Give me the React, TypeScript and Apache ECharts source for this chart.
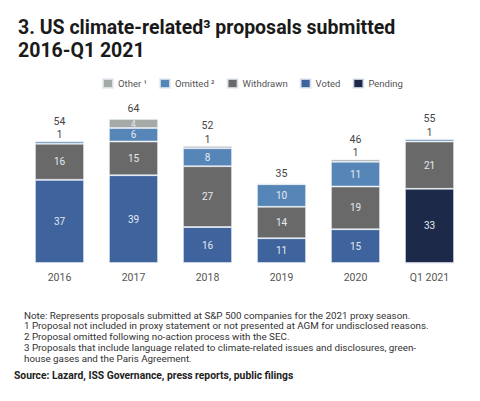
import React, { useEffect, useRef } from "react";
import * as echarts from "echarts";

const categories = ["2016", "2017", "2018", "2019", "2020", "Q1 2021"];
const voted = [37, 39, 16, 11, 15, 0];
const pending = [0, 0, 0, 0, 0, 33];
const withdrawn = [16, 15, 27, 14, 19, 21];
const omitted = [1, 6, 8, 10, 11, 1];
const other = [0, 4, 1, 0, 1, 0];

const titleLines = ["3. US climate-related³ proposals submitted", "2016-Q1 2021"];
const noteLines = [
  "Note: Represents proposals submitted at S&P 500 companies for the 2021 proxy season.",
  "1 Proposal not included in proxy statement or not presented at AGM for undisclosed reasons.",
  "2 Proposal omitted following no-action process with the SEC.",
  "3 Proposals that include language related to climate-related issues and disclosures, green-",
  "house gases and the Paris Agreement.",
];
const sourceText = "Source: Lazard, ISS Governance, press reports, public filings";

const COND = '"Roboto", sans-serif';
const SANS = '"Roboto", "Liberation Sans", sans-serif';

const colors = {
  other: "#a4aaa6",
  omitted: "#5686b7",
  withdrawn: "#696969",
  voted: "#3f639d",
  pending: "#1d2949",
};

export default function App() {
  const ref = useRef<HTMLDivElement>(null);
  useEffect(() => {
    if (!ref.current) return;
    const chart = echarts.init(ref.current, undefined, { renderer: "svg" });
    const totals = categories.map(
      (_, i) => voted[i] + pending[i] + withdrawn[i] + omitted[i] + other[i]
    );
    const insideLabel = {
      show: true,
      position: "inside",
      color: "#e4e9f0",
      fontFamily: COND,
      fontSize: 10,
      formatter: (p: any) => (p.value ? String(p.value) : ""),
    };
    const mkData = (arr: number[]) =>
      arr.map((v) =>
        v === 1
          ? { value: v, label: { position: "top", color: "#444", distance: 2 } }
          : v > 0 && v < 5
          ? { value: v, label: { fontSize: 8.5, lineHeight: 9 } }
          : v
      );
    const itemStyle = (c: string) => ({
      color: c,
      borderColor: "rgba(230,236,244,0.8)",
      borderWidth: 0.8,
    });
    const barCommon = {
      type: "bar",
      stack: "s",
      barWidth: 49,
      label: insideLabel,
      emphasis: { disabled: true },
    };
    const hasOne = categories.map(
      (_, i) => other[i] === 1 || (other[i] === 0 && omitted[i] === 1)
    );
    chart.setOption({
      animation: false,
      textStyle: { fontFamily: COND },
      title: {
        text: titleLines.join("\n"),
        left: 13,
        top: 11,
        textStyle: {
          fontFamily: SANS,
          fontWeight: "bold",
          fontSize: 19.5,
          lineHeight: 23,
          color: "#1a1a1a",
        },
      },
      legend: {
        top: 73,
        left: 97,
        itemWidth: 10,
        itemHeight: 9,
        itemGap: 12,
        data: ["Other ¹", "Omitted ²", "Withdrawn", "Voted", "Pending"],
        textStyle: { color: "#555", fontSize: 9.5, fontFamily: COND },
        icon: "rect",
        selectedMode: false,
      },
      grid: { left: 22.5, right: 13.5, top: 105.5, bottom: 138 },
      xAxis: {
        type: "category",
        data: categories,
        axisLine: { show: false },
        axisTick: { show: false },
        axisLabel: { color: "#555", fontSize: 10.5, margin: 9, fontFamily: COND },
      },
      yAxis: { type: "value", min: 0, max: 70, show: false },
      series: [
        { ...barCommon, name: "Voted", data: voted, itemStyle: itemStyle(colors.voted) },
        { ...barCommon, name: "Pending", data: pending, itemStyle: itemStyle(colors.pending) },
        { ...barCommon, name: "Withdrawn", data: withdrawn, itemStyle: itemStyle(colors.withdrawn) },
        { ...barCommon, name: "Omitted ²", data: mkData(omitted), itemStyle: itemStyle(colors.omitted) },
        { ...barCommon, name: "Other ¹", data: mkData(other), itemStyle: itemStyle(colors.other) },
        {
          type: "bar",
          stack: "s",
          barWidth: 49,
          name: "total",
          silent: true,
          itemStyle: { color: "transparent" },
          data: totals.map((t, i) => ({
            value: 0,
            label: {
              show: true,
              position: "top",
              distance: hasOne[i] ? 15 : 5,
              color: "#444",
              fontSize: 10.5,
              fontFamily: COND,
              formatter: () => String(t),
            },
          })),
        },
      ],
      graphic: [
        ...noteLines.map((line, i) => ({
          type: "text",
          left: 24,
          top: 310 + i * 10.8,
          style: { text: line, fontFamily: SANS, fontSize: 9.8, fill: "#333" },
        })),
        {
          type: "text",
          left: 14,
          top: 370,
          style: { text: sourceText, fontFamily: SANS, fontSize: 10.3, fontWeight: "bold", fill: "#222" },
        },
      ],
    });
    return () => chart.dispose();
  }, []);
  return (
    <div
      ref={ref}
      style={{ position: "fixed", left: 0, top: 0, width: 480, height: 401, background: "#fff" }}
    />
  );
}
